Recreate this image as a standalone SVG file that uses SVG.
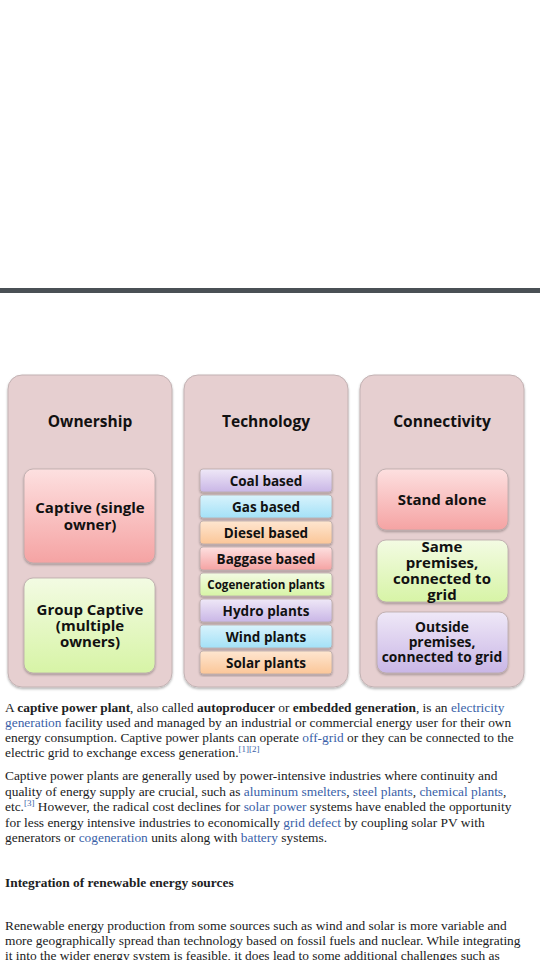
<svg xmlns="http://www.w3.org/2000/svg" width="540" height="960" viewBox="0 0 540 960">
<defs>
<linearGradient id="gRed" x1="0" y1="0" x2="0" y2="1"><stop offset="0" stop-color="#fde0e0"/><stop offset="1" stop-color="#f5a3a3"/></linearGradient>
<linearGradient id="gGreen" x1="0" y1="0" x2="0" y2="1"><stop offset="0" stop-color="#f3fbe3"/><stop offset="1" stop-color="#d7f4a6"/></linearGradient>
<linearGradient id="gPurple" x1="0" y1="0" x2="0" y2="1"><stop offset="0" stop-color="#efe8f7"/><stop offset="1" stop-color="#c9b6e6"/></linearGradient>
<linearGradient id="gCyan" x1="0" y1="0" x2="0" y2="1"><stop offset="0" stop-color="#d9f3fc"/><stop offset="1" stop-color="#a3e1f7"/></linearGradient>
<linearGradient id="gOrange" x1="0" y1="0" x2="0" y2="1"><stop offset="0" stop-color="#fee6d0"/><stop offset="1" stop-color="#fbc698"/></linearGradient>
<filter id="sh" x="-10%" y="-10%" width="120%" height="120%"><feDropShadow dx="0" dy="1.5" stdDeviation="1.2" flood-color="#000" flood-opacity="0.3"/></filter>
</defs>
<style>
.panel{fill:#e6cfd0;stroke:#c2b2b3;stroke-width:1;filter:url(#sh)}
.box{stroke:#b8a8a8;stroke-width:0.8;filter:url(#sh)}
.t{font-family:"Open Sans","DejaVu Sans",sans-serif;font-weight:700;fill:#111;text-anchor:middle}
.h{font-size:15.5px}
.b{font-size:15px}
.s{font-size:13.5px}
.p{font-family:"Liberation Serif","Times New Roman",serif;font-size:13.4px;fill:#202122}
.bd{font-weight:700}
.l{fill:#3a5fa8}
.sup{font-size:9px}
</style>
<rect width="540" height="960" fill="#fff"/>
<rect x="0" y="288" width="540" height="5" fill="#4a5055"/>

<g id="ownership">
<rect class="panel" x="8" y="375" width="164" height="312" rx="14"/>
<text class="t h" x="90" y="427">Ownership</text>
</g>
<g id="captive-single">
<rect class="box" x="24" y="469" width="131" height="94" rx="9" fill="url(#gRed)"/>
<text class="t b" x="90" y="513">Captive (single</text>
<text class="t b" x="90" y="530">owner)</text>
</g>
<g id="group-captive">
<rect class="box" x="24" y="578" width="131" height="95" rx="9" fill="url(#gGreen)"/>
<text class="t b" x="90" y="615">Group Captive</text>
<text class="t b" x="90" y="631">(multiple</text>
<text class="t b" x="90" y="647">owners)</text>
</g>

<g id="technology">
<rect class="panel" x="184" y="375" width="164" height="312" rx="14"/>
<text class="t h" x="266" y="427">Technology</text>
</g>
<g id="coal"><rect class="box" x="200" y="469" width="132" height="23" rx="3" fill="url(#gPurple)"/><text class="t s" x="266" y="485.5">Coal based</text></g>
<g id="gas"><rect class="box" x="200" y="495" width="132" height="23" rx="3" fill="url(#gCyan)"/><text class="t s" x="266" y="511.5">Gas based</text></g>
<g id="diesel"><rect class="box" x="200" y="521" width="132" height="23" rx="3" fill="url(#gOrange)"/><text class="t s" x="266" y="537.5">Diesel based</text></g>
<g id="baggase"><rect class="box" x="200" y="547" width="132" height="23" rx="3" fill="url(#gRed)"/><text class="t s" x="266" y="563.5">Baggase based</text></g>
<g id="cogeneration"><rect class="box" x="200" y="573" width="132" height="23" rx="3" fill="url(#gGreen)"/><text class="t" x="266" y="588.5" style="font-size:11.6px">Cogeneration plants</text></g>
<g id="hydro"><rect class="box" x="200" y="599" width="132" height="23" rx="3" fill="url(#gPurple)"/><text class="t s" x="266" y="615.5">Hydro plants</text></g>
<g id="wind"><rect class="box" x="200" y="625" width="132" height="23" rx="3" fill="url(#gCyan)"/><text class="t s" x="266" y="641.5">Wind plants</text></g>
<g id="solar"><rect class="box" x="200" y="651" width="132" height="23" rx="3" fill="url(#gOrange)"/><text class="t s" x="266" y="667.5">Solar plants</text></g>

<g id="connectivity">
<rect class="panel" x="360" y="375" width="164" height="312" rx="14"/>
<text class="t h" x="442" y="427">Connectivity</text>
</g>
<g id="stand-alone">
<rect class="box" x="377" y="469" width="131" height="61" rx="9" fill="url(#gRed)"/>
<text class="t b" x="442" y="505">Stand alone</text>
</g>
<g id="same-premises">
<rect class="box" x="377" y="540" width="131" height="62" rx="9" fill="url(#gGreen)"/>
<text class="t b" x="442" y="552">Same</text>
<text class="t b" x="442" y="568">premises,</text>
<text class="t b" x="442" y="584">connected to</text>
<text class="t b" x="442" y="600">grid</text>
</g>
<g id="outside-premises">
<rect class="box" x="377" y="612" width="131" height="61" rx="9" fill="url(#gPurple)"/>
<text class="t" x="442" y="632" style="font-size:13.8px">Outside</text>
<text class="t" x="442" y="647" style="font-size:13.8px">premises,</text>
<text class="t" x="442" y="662" style="font-size:13.8px">connected to grid</text>
</g>

<g id="article">
<text class="p" x="5" y="712">A <tspan class="bd">captive power plant</tspan>, also called <tspan class="bd">autoproducer</tspan> or <tspan class="bd">embedded generation</tspan>, is an <tspan class="l">electricity</tspan></text>
<text class="p" x="5" y="727"><tspan class="l">generation</tspan> facility used and managed by an industrial or commercial energy user for their own</text>
<text class="p" x="5" y="742">energy consumption. Captive power plants can operate <tspan class="l">off-grid</tspan> or they can be connected to the</text>
<text class="p" x="5" y="757">electric grid to exchange excess generation.<tspan class="l sup" dy="-5">[1][2]</tspan></text>

<text class="p" x="5" y="780">Captive power plants are generally used by power-intensive industries where continuity and</text>
<text class="p" x="5" y="796">quality of energy supply are crucial, such as <tspan class="l">aluminum smelters</tspan>, <tspan class="l">steel plants</tspan>, <tspan class="l">chemical plants</tspan>,</text>
<text class="p" x="5" y="811">etc.<tspan class="l sup" dy="-5">[3]</tspan><tspan dy="5"> However, the radical cost declines for </tspan><tspan class="l">solar power</tspan> systems have enabled the opportunity</text>
<text class="p" x="5" y="827">for less energy intensive industries to economically <tspan class="l">grid defect</tspan> by coupling solar PV with</text>
<text class="p" x="5" y="842">generators or <tspan class="l">cogeneration</tspan> units along with <tspan class="l">battery</tspan> systems.</text>

<text class="p bd" x="5" y="887">Integration of renewable energy sources</text>

<text class="p" x="5" y="930">Renewable energy production from some sources such as wind and solar is more variable and</text>
<text class="p" x="5" y="945">more geographically spread than technology based on fossil fuels and nuclear. While integrating</text>
<text class="p" x="5" y="960">it into the wider energy system is feasible, it does lead to some additional challenges such as</text>
</g>
</svg>
